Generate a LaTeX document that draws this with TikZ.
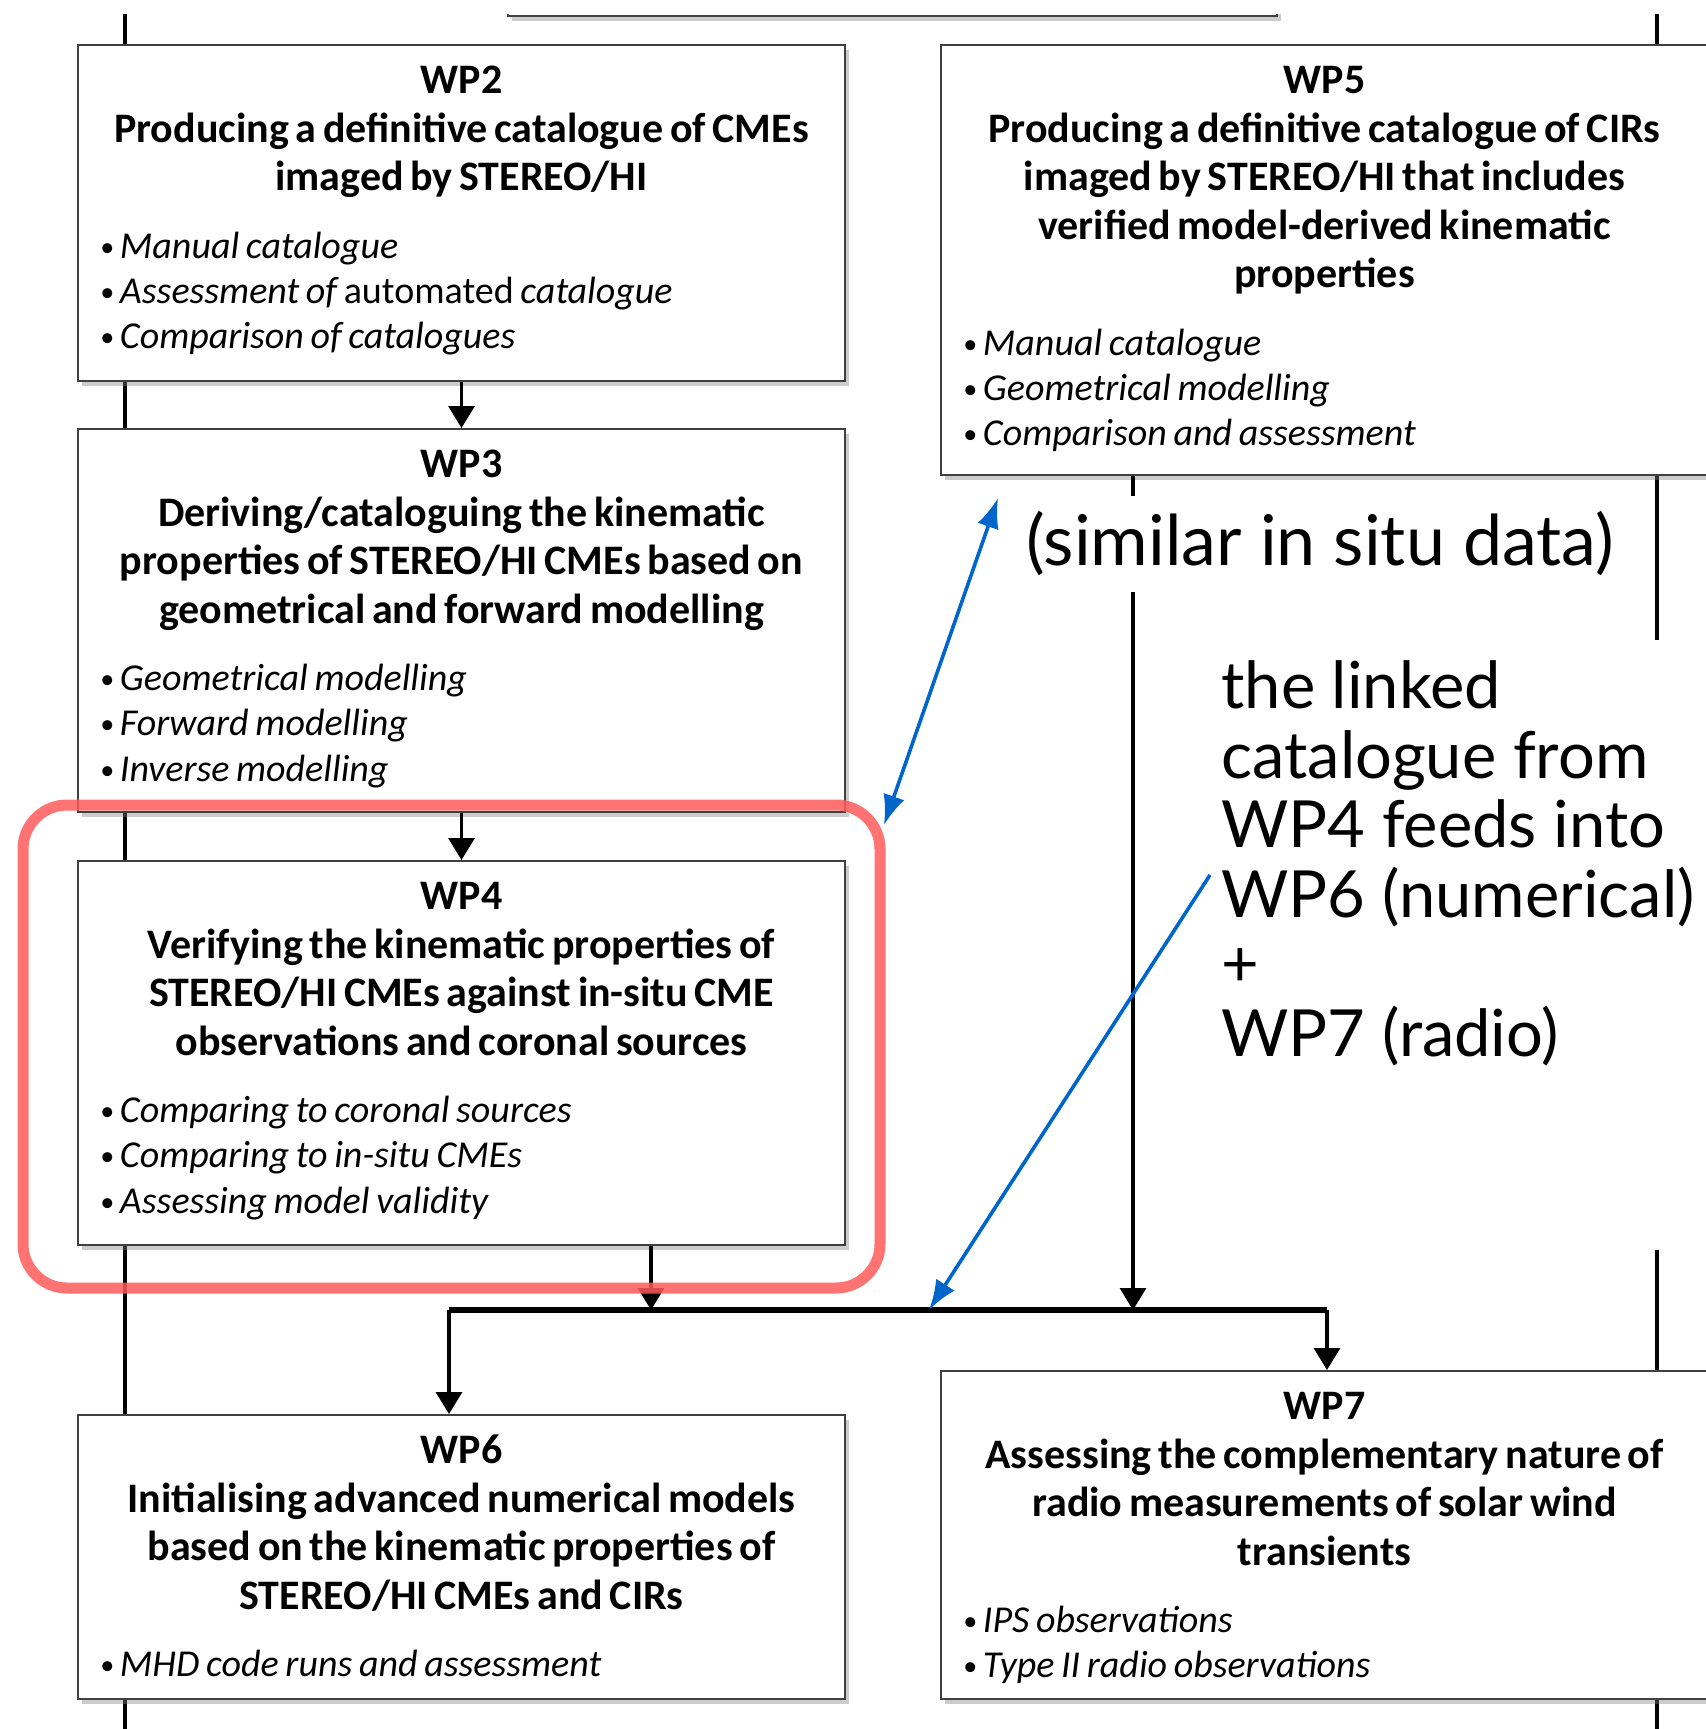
\documentclass[tikz,border=0pt]{standalone}
\usepackage{fontspec}
\setmainfont{Carlito}
\newfontfamily\notefont{Lato}
\usetikzlibrary{positioning,arrows.meta,shadows}

\definecolor{hintblue}{RGB}{0,102,204}
\definecolor{markred}{RGB}{255,90,90}

% box text: title + description, then the bullet list
\newcommand{\wptext}[3]{%
  {\bfseries\fontsize{21}{24.25}\selectfont\strut#1\\#2\par}%
  \vspace{11pt}%
  {\raggedright\leftskip=-1pt\itshape\fontsize{19}{22.6}\selectfont#3\par}}
\newcommand{\wpitem}{{\fontsize{14}{14}\selectfont\raisebox{1pt}{\textbullet}}\hspace{3pt}}

\begin{document}
\begin{tikzpicture}[x=0.5pt, y=-0.5pt,
	>={Latex[length=15pt,width=11pt]},
	wpbox/.style={draw=black!75, line width=1pt, fill=white, inner sep=0pt, anchor=north west,
		minimum width=383.5pt, drop shadow={shadow xshift=2pt, shadow yshift=-2.5pt, opacity=.4}},
	wptxt/.style={text width=359.5pt, align=center, inner sep=0pt},
	link/.style={line width=1.6pt},
	flow/.style={link, -{Triangle[width=13pt,length=11pt]}},
	bus/.style={line width=3pt},
	note/.style={font=\notefont\fontsize{35}{34.75}\selectfont, align=left, inner sep=0pt},
	hint/.style={draw=hintblue, line width=1.8pt},
	markbox/.style={draw=markred, line width=5.5pt, rounded corners=22pt, opacity=.85}]
	
	\useasboundingbox (0,0) rectangle (1706,1729);
	\clip (0,14) rectangle (1706,1729);
	
	% side lines running behind the boxes
	\coordinate (ltop) at (125,14);
	\coordinate (lbot) at (125,1729);
	\coordinate (rtop) at (1657,14);
	\coordinate (rcut1) at (1657,640);
	\coordinate (rcut2) at (1657,1250);
	\coordinate (rbot) at (1657,1729);
	\draw[link] (ltop) -- (lbot);
	\draw[link] (rtop) -- (rcut1);
	\draw[link] (rcut2) -- (rbot);
	
	% the collecting bar
	\coordinate (busL) at (449,1310);
	\coordinate (busR) at (1327,1310);
	\coordinate (busA) at (651,1310);
	\coordinate (busB) at (1133,1310);
	
	% work packages
	\node[wpbox, minimum width=384.5pt, minimum height=60pt, anchor=south west] (wp1) at (507,17) {};
	\node[wpbox, minimum height=168pt] (wp2) at (77,44) {};
	\node[wpbox, minimum height=191.5pt] (wp3) at (77,428) {};
	\node[wpbox, minimum height=192pt] (wp4) at (77,860) {};
	\node[wpbox, minimum height=142pt] (wp6) at (77,1414) {};
	\node[wpbox, minimum height=215pt] (wp5) at (940,44) {};
	\node[wpbox, minimum height=164pt] (wp7) at (940,1370) {};
	
	\node[wptxt, below=7.8pt of wp2.north] (wp2t) {\wptext{WP2}
		{Producing a definitive catalogue of CMEs\\imaged by STEREO/HI}
		{\wpitem Manual catalogue\\
		 \wpitem Assessment of {\upshape automated} catalogue\\
		 \wpitem Comparison of catalogues}};
	\node[wptxt, below=7.8pt of wp3.north] (wp3t) {\wptext{WP3}
		{Deriving/cataloguing the kinematic\\properties of STEREO/HI CMEs based on\\geometrical and forward modelling}
		{\wpitem Geometrical modelling\\
		 \wpitem Forward modelling\\
		 \wpitem Inverse modelling}};
	\node[wptxt, below=7.8pt of wp4.north] (wp4t) {\wptext{WP4}
		{Verifying the kinematic properties of\\STEREO/HI CMEs against in-situ CME\\observations and coronal sources}
		{\wpitem Comparing to coronal sources\\
		 \wpitem Comparing to in-situ CMEs\\
		 \wpitem Assessing model validity}};
	\node[wptxt, below=7.8pt of wp5.north] (wp5t) {\wptext{WP5}
		{Producing a definitive catalogue of CIRs\\imaged by STEREO/HI that includes\\verified model-derived kinematic\\properties}
		{\wpitem Manual catalogue\\
		 \wpitem Geometrical modelling\\
		 \wpitem Comparison and assessment}};
	\node[wptxt, below=7.8pt of wp6.north] (wp6t) {\wptext{WP6}
		{Initialising advanced numerical models\\based on the kinematic properties of\\STEREO/HI CMEs and CIRs}
		{\wpitem MHD code runs and assessment}};
	\node[wptxt, below=7.8pt of wp7.north] (wp7t) {\wptext{WP7}
		{Assessing the complementary nature of\\radio measurements of solar wind\\transients}
		{\wpitem IPS observations\\
		 \wpitem Type II radio observations}};
	
	% flow between packages
	\draw[flow] (wp2) -- (wp3);
	\draw[flow] (wp3) -- (wp4);
	\draw[flow] (wp4.south -| busA) -- (busA);
	\draw[flow] (wp5.south -| busB) -- (busB);
	\draw[bus] (busL) -- (busR);
	\draw[flow] (busL) -- (busL |- wp6.north);
	\draw[flow] (busR) -- (busR |- wp7.north);
	
	% annotations
	\node[note, fill=white, anchor=base west, text height=28.5pt, text depth=7.5pt, inner ysep=6pt] (simnote) at (1026,565) {(similar in situ data)};
	\node[note, font=\notefont\fontsize{32.5}{34.75}\selectfont, anchor=base west] (feednote) at (1221,1056) {the linked\\catalogue from\\WP4 feeds into\\WP6 (numerical)\\+\\WP7 (radio)};
	
	\draw[markbox] (23,805) rectangle (880,1288);
	
	\coordinate (simtip) at (998,498);
	\coordinate (marktip) at (884,825);
	\coordinate (feedstart) at (1210,875);
	\coordinate (bustip) at (929,1310);
	\draw[hint, <->] (marktip) -- (simtip);
	\draw[hint, ->] (feedstart) -- (bustip);
\end{tikzpicture}
\end{document}
